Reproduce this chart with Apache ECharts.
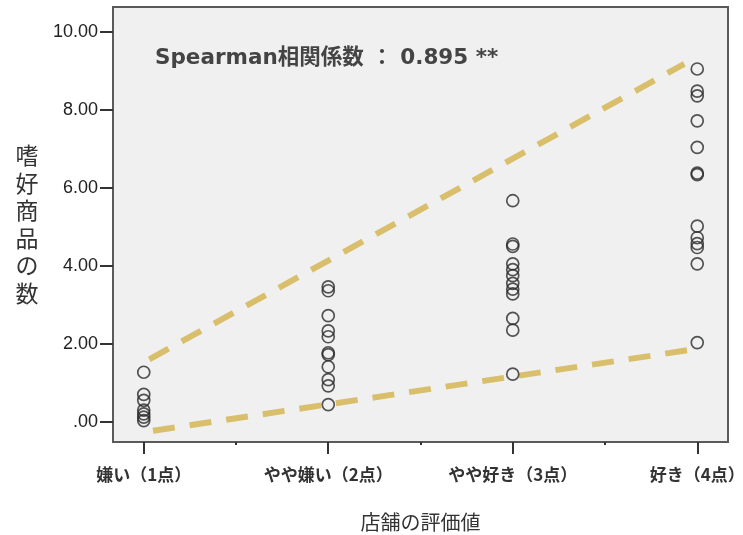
<!DOCTYPE html>
<html>
<head>
<meta charset="utf-8">
<script src="https://cdn.jsdelivr.net/npm/echarts@6/dist/echarts.min.js"></script>
<style>
html,body{margin:0;padding:0;background:#fff;}
#chart{width:743px;height:535px;}
</style>
</head>
<body>
<div id="chart"></div>
<script>
const categories = ['嫌い（1点）', 'やや嫌い（2点）', 'やや好き（3点）', '好き（4点）'];
const yTickValues = [0, 2, 4, 6, 8, 10];
const cat1Values = [1.27, 0.70, 0.55, 0.30, 0.20, 0.12, 0.03];
const cat2Values = [3.46, 3.36, 2.72, 2.33, 2.18, 1.77, 1.72, 1.41, 1.08, 0.92, 0.44];
const cat3Values = [5.67, 4.56, 4.50, 4.05, 3.90, 3.75, 3.55, 3.40, 3.28, 2.65, 2.35, 1.22];
const cat4Values = [9.05, 8.48, 8.36, 7.72, 7.04, 6.38, 6.34, 5.02, 4.72, 4.57, 4.47, 4.05, 2.03];
const upperLine = [[1.03, 1.6], [3.93, 9.18]];
const lowerLine = [[1.05, -0.23], [3.97, 1.85]];
const annotation = 'Spearman相関係数 ： 0.895 **';
const xName = '店舗の評価値';
const yName = '嗜好商品の数';

const groups = [cat1Values, cat2Values, cat3Values, cat4Values];
const points = [];
groups.forEach((vals, i) => vals.forEach(v => points.push([i + 1, v])));

const chart = echarts.init(document.getElementById('chart'));
const dashStyle = {color: '#d9bf6b', width: 6, type: [22, 15], cap: 'butt'};
chart.setOption({
  animation: false,
  backgroundColor: '#ffffff',
  title: {
    text: annotation,
    left: 155, top: 48, padding: 0,
    textStyle: {fontSize: 21.5, fontWeight: 'bold', color: '#444', fontFamily: 'DejaVu Sans, "Noto Sans CJK JP"'}
  },
  grid: {
    left: 113, right: 15, top: 7, bottom: 93,
    containLabel: false, outerBoundsMode: 'none',
    show: true, backgroundColor: '#f0f0f0', borderColor: '#5a5a5a', borderWidth: 2
  },
  xAxis: [{
    type: 'value', min: 5/6, max: 25/6, position: 'bottom',
    name: xName, nameLocation: 'middle', nameGap: 70,
    nameTextStyle: {fontSize: 20, color: '#333', fontFamily: '"Noto Sans CJK JP"'},
    axisLine: {show: false, onZero: false},
    splitLine: {show: false},
    axisTick: {show: true, length: 12, lineStyle: {color: '#333', width: 2}, customValues: [1, 2, 3, 4]},
    axisLabel: {
      margin: 24, fontSize: 17, fontWeight: 'bold', color: '#333', fontFamily: '"Noto Sans CJK JP"',
      customValues: [1, 2, 3, 4], hideOverlap: false,
      formatter: v => categories[Math.round(v) - 1] || ''
    }
  }, {
    type: 'value', min: 5/6, max: 25/6, position: 'bottom',
    axisLine: {show: false, onZero: false}, splitLine: {show: false},
    axisTick: {show: true, length: 3, lineStyle: {color: '#333', width: 2}, customValues: [1.5, 2.5, 3.5]},
    axisLabel: {show: false}
  }],
  yAxis: {
    type: 'value', min: -0.52, max: 10.64,
    name: yName.split('').join('\n'), nameLocation: 'middle', nameGap: 86, nameRotate: 0,
    nameTextStyle: {fontSize: 23, lineHeight: 27.5, color: '#333', fontFamily: '"Noto Sans CJK JP"', align: 'center'},
    axisLine: {show: false, onZero: false},
    splitLine: {show: false},
    axisTick: {show: true, length: 13, lineStyle: {color: '#333', width: 2}, customValues: yTickValues},
    axisLabel: {
      margin: 15, fontSize: 18, color: '#222', fontFamily: '"Liberation Sans", Arial',
      customValues: yTickValues,
      formatter: v => { const s = v.toFixed(2); return s.startsWith('0') ? s.slice(1) : s; }
    }
  },
  series: [{
    type: 'scatter',
    data: points,
    symbol: 'circle', symbolSize: 12,
    itemStyle: {color: 'rgba(0,0,0,0)', borderColor: '#2a2a2a', borderWidth: 1.7},
    z: 3
  }, {
    type: 'line', data: upperLine, symbol: 'none', lineStyle: dashStyle, z: 2
  }, {
    type: 'line', data: lowerLine, symbol: 'none', lineStyle: dashStyle, z: 2
  }]
});
</script>
</body>
</html>
